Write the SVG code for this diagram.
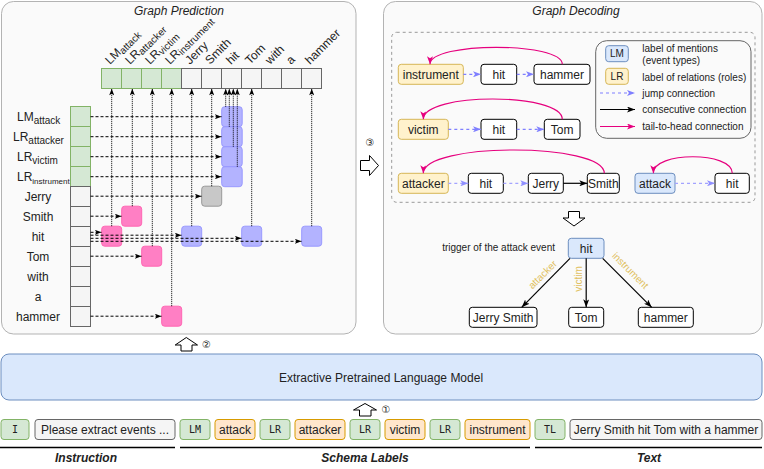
<svg xmlns="http://www.w3.org/2000/svg" width="764" height="469" viewBox="0 0 764 469">
<style>
text{font-family:"Liberation Sans",Arial,sans-serif;fill:#222}
.t12{font-size:12px}
.t10{font-size:10px}
.mid{text-anchor:middle}
.it{font-style:italic}
.panel{fill:#fafafa;stroke:#b3b3b3;stroke-width:1}
.gc{fill:#d5e8d4;stroke:#82b366}
.wc{fill:#f5f5f5;stroke:#666}
.oc{fill:#ffe6cc;stroke:#d79b00}
.yc{fill:#fff2cc;stroke:#d6b656}
.bc{fill:#dae8fc;stroke:#6c8ebf}
.nc{fill:#fff;stroke:#000}
.sqb{fill:#a6a6ff;fill-opacity:.85;stroke:#9999ff}
.sqp{fill:#ff7fc4;stroke:#ff66b3}
.sqg{fill:#c8c8c8;stroke:#999}
.hd{fill:none;stroke:#000;stroke-width:1;stroke-dasharray:3 2;marker-end:url(#ak)}
.vd{fill:none;stroke:#000;stroke-width:1;stroke-dasharray:1 1;marker-end:url(#ak)}
.jb{fill:none;stroke:#7f7fff;stroke-width:1.2;stroke-dasharray:3 3;marker-end:url(#ab)}
.jb2{fill:none;stroke:#a3a3ff;stroke-width:1.2;stroke-dasharray:3 3;marker-end:url(#ab2)}
.ck{fill:none;stroke:#000;stroke-width:1.2;marker-end:url(#ak2)}
.th{fill:none;stroke:#e6007e;stroke-width:1.2;marker-end:url(#ap)}
.hollow{fill:#fff;stroke:#000;stroke-width:1}
.mono{font-family:"DejaVu Sans Mono","Liberation Mono",monospace;font-size:10px}
.lbl{fill:#e0bf60;font-size:10px}
.cd{font-family:"DejaVu Sans","Noto Sans CJK SC",sans-serif;font-size:10px;fill:#222}
</style>
<defs>
<marker id="ak" viewBox="0 0 8 6" refX="8" refY="3" markerWidth="7" markerHeight="5" orient="auto" markerUnits="userSpaceOnUse"><path d="M0,0 L8,3 L0,6 L2,3 Z" fill="#000"/></marker>
<marker id="ak2" viewBox="0 0 8 6" refX="8" refY="3" markerWidth="8" markerHeight="6" orient="auto" markerUnits="userSpaceOnUse"><path d="M0,0 L8,3 L0,6 L2,3 Z" fill="#000"/></marker>
<marker id="ab" viewBox="0 0 8 6" refX="8" refY="3" markerWidth="8" markerHeight="6" orient="auto" markerUnits="userSpaceOnUse"><path d="M0,0 L8,3 L0,6 L2,3 Z" fill="#7f7fff"/></marker>
<marker id="ab2" viewBox="0 0 8 6" refX="8" refY="3" markerWidth="8" markerHeight="6" orient="auto" markerUnits="userSpaceOnUse"><path d="M0,0 L8,3 L0,6 L2,3 Z" fill="#8f8fff"/></marker>
<marker id="ap" viewBox="0 0 8 6" refX="8" refY="3" markerWidth="8" markerHeight="6" orient="auto" markerUnits="userSpaceOnUse"><path d="M0,0 L8,3 L0,6 L2,3 Z" fill="#e6007e"/></marker>
</defs>

<g id="panel-prediction">
<rect class="panel" x="1.5" y="1.5" width="354.5" height="332.5" rx="12"/>
<text class="t12 it mid" x="179" y="15">Graph Prediction</text>
</g>
<g id="panel-decoding">
<rect class="panel" x="383.5" y="1.5" width="378.5" height="332.5" rx="12"/>
<text class="t12 it mid" x="576" y="15">Graph Decoding</text>
<rect x="391.7" y="32.3" width="363.3" height="170" rx="5" fill="none" stroke="#999" stroke-dasharray="3 3"/>
</g>

<g id="top-row">
<rect class="gc" x="101.5" y="68.5" width="20" height="20"/>
<rect class="gc" x="121.5" y="68.5" width="20" height="20"/>
<rect class="gc" x="141.5" y="68.5" width="20" height="20"/>
<rect class="gc" x="161.5" y="68.5" width="20" height="20"/>
<rect class="wc" x="181.5" y="68.5" width="20" height="20"/>
<rect class="wc" x="201.5" y="68.5" width="20" height="20"/>
<rect class="wc" x="221.5" y="68.5" width="20" height="20"/>
<rect class="wc" x="241.5" y="68.5" width="20" height="20"/>
<rect class="wc" x="261.5" y="68.5" width="20" height="20"/>
<rect class="wc" x="281.5" y="68.5" width="20" height="20"/>
<rect class="wc" x="301.5" y="68.5" width="20" height="20"/>
<g style="font-size:12px">
<text transform="rotate(-45 110 65)" x="110" y="65">LM<tspan font-size="10" dy="2">attack</tspan></text>
<text transform="rotate(-45 130 65)" x="130" y="65">LR<tspan font-size="10" dy="2">attacker</tspan></text>
<text transform="rotate(-45 150 65)" x="150" y="65">LR<tspan font-size="10" dy="2">victim</tspan></text>
<text transform="rotate(-45 170 65)" x="170" y="65">LR<tspan font-size="10" dy="2">instrument</tspan></text>
<text transform="rotate(-45 190 65)" x="190" y="65">Jerry</text>
<text transform="rotate(-45 210 65)" x="210" y="65">Smith</text>
<text transform="rotate(-45 231 65)" x="231" y="65">hit</text>
<text transform="rotate(-45 250 65)" x="250" y="65">Tom</text>
<text transform="rotate(-45 270 65)" x="270" y="65">with</text>
<text transform="rotate(-45 291 65)" x="291" y="65">a</text>
<text transform="rotate(-45 310 65)" x="310" y="65">hammer</text>
</g>
</g>

<g id="left-column">
<rect class="gc" x="70.5" y="106.5" width="20" height="20"/>
<rect class="gc" x="70.5" y="126.5" width="20" height="20"/>
<rect class="gc" x="70.5" y="146.5" width="20" height="20"/>
<rect class="gc" x="70.5" y="166.5" width="20" height="20"/>
<rect class="wc" x="70.5" y="186.5" width="20" height="20"/>
<rect class="wc" x="70.5" y="206.5" width="20" height="20"/>
<rect class="wc" x="70.5" y="226.5" width="20" height="20"/>
<rect class="wc" x="70.5" y="246.5" width="20" height="20"/>
<rect class="wc" x="70.5" y="266.5" width="20" height="20"/>
<rect class="wc" x="70.5" y="286.5" width="20" height="20"/>
<rect class="wc" x="70.5" y="306.5" width="20" height="20"/>
<g class="t12">
<text x="17" y="120.5">LM<tspan font-size="10" dy="3">attack</tspan></text>
<text x="13" y="140.5">LR<tspan font-size="10" dy="3">attacker</tspan></text>
<text x="17" y="160.5">LR<tspan font-size="10" dy="3">victim</tspan></text>
<text x="17" y="180.5">LR<tspan font-size="8" dy="3">instrument</tspan></text>
<text class="mid" x="38" y="200.5">Jerry</text>
<text class="mid" x="38" y="220.5">Smith</text>
<text class="mid" x="38" y="240.5">hit</text>
<text class="mid" x="38" y="260.5">Tom</text>
<text class="mid" x="38" y="280.5">with</text>
<text class="mid" x="38" y="300.5">a</text>
<text class="mid" x="38" y="320.5">hammer</text>
</g>
</g>

<g id="scores">
<rect class="sqb" x="221.7" y="106.7" width="20.5" height="20" rx="3"/>
<rect class="sqb" x="221.7" y="126.7" width="20.5" height="20" rx="3"/>
<rect class="sqb" x="221.7" y="146.7" width="20.5" height="20" rx="3"/>
<rect class="sqb" x="221.7" y="166.7" width="20.5" height="20" rx="3"/>
<rect class="sqg" x="201.7" y="186.2" width="20" height="20" rx="3"/>
<rect class="sqp" x="121.7" y="206.2" width="20" height="20" rx="3"/>
<rect class="sqp" x="101.7" y="226.2" width="20" height="20" rx="3"/>
<rect class="sqb" x="181.7" y="226.2" width="20" height="20" rx="3"/>
<rect class="sqb" x="241.7" y="226.2" width="20" height="20" rx="3"/>
<rect class="sqb" x="301.7" y="226.2" width="20" height="20" rx="3"/>
<rect class="sqp" x="141.7" y="246.2" width="20" height="20" rx="3"/>
<rect class="sqp" x="161.7" y="306.2" width="20" height="20" rx="3"/>
</g>

<g id="decode-row1">
<rect class="yc" x="398.3" y="64.3" width="65" height="20" rx="3"/>
<text class="t12 mid" x="430.8" y="78.5">instrument</text>
<rect class="nc" x="481" y="64.3" width="35.7" height="20" rx="3"/>
<text class="t12 mid" x="498.8" y="78.5">hit</text>
<rect class="nc" x="534" y="64.3" width="56" height="20" rx="3"/>
<text class="t12 mid" x="562" y="78.5">hammer</text>
</g>
<g id="decode-row2">
<rect class="yc" x="398.3" y="119.3" width="50" height="20" rx="3"/>
<text class="t12 mid" x="423.3" y="133.5">victim</text>
<rect class="nc" x="481" y="119.3" width="35.7" height="20" rx="3"/>
<text class="t12 mid" x="498.8" y="133.5">hit</text>
<rect class="nc" x="544.3" y="119.3" width="35.7" height="20" rx="3"/>
<text class="t12 mid" x="562.2" y="133.5">Tom</text>
</g>
<g id="decode-row3">
<rect class="yc" x="398.3" y="173.3" width="50" height="20" rx="3"/>
<text class="t12 mid" x="423.3" y="187.5">attacker</text>
<rect class="nc" x="468.3" y="173.3" width="35" height="20" rx="3"/>
<text class="t12 mid" x="485.8" y="187.5">hit</text>
<rect class="nc" x="528.3" y="173.3" width="35" height="20" rx="3"/>
<text class="t12 mid" x="545.8" y="187.5">Jerry</text>
<rect class="nc" x="587.3" y="173.3" width="32" height="20" rx="3"/>
<text class="t12 mid" x="603.3" y="187.5">Smith</text>
<rect class="bc" x="635" y="173.3" width="40" height="20" rx="3"/>
<text class="t12 mid" x="655" y="187.5">attack</text>
<rect class="nc" x="715" y="173.3" width="34.3" height="20" rx="3"/>
<text class="t12 mid" x="732.2" y="187.5">hit</text>
</g>

<g id="legend">
<rect x="595.7" y="40.7" width="155.3" height="97.6" rx="11" fill="#fafafa" stroke="#666"/>
<rect class="bc" x="605.7" y="45.7" width="22.6" height="16" rx="3"/>
<text class="t10 mid" x="617" y="57">LM</text>
<rect class="yc" x="605.7" y="68.3" width="22.6" height="16" rx="3"/>
<text class="t10 mid" x="617" y="80">LR</text>
<g class="t10" style="fill:#333">
<text x="642.3" y="51.5">label of mentions</text>
<text x="642.3" y="64">(event types)</text>
<text x="642.3" y="80.5">label of relations (roles)</text>
<text x="642.3" y="96.8">jump connection</text>
<text x="642.3" y="112.8">consecutive connection</text>
<text x="642.3" y="129.8">tail-to-head connection</text>
</g>
</g>

<g id="event-tree">
<text class="t10" x="555" y="251" text-anchor="end">trigger of the attack event</text>
<rect class="bc" x="568.3" y="238.3" width="35.7" height="20" rx="3"/>
<text class="t12 mid" x="586.2" y="252.5">hit</text>
<rect class="nc" x="469.3" y="307.3" width="67.7" height="20" rx="3"/>
<text class="t12 mid" x="503.2" y="321.5">Jerry Smith</text>
<rect class="nc" x="568.7" y="307.3" width="35" height="20" rx="3"/>
<text class="t12 mid" x="586.2" y="321.5">Tom</text>
<rect class="nc" x="638.3" y="307.3" width="55" height="20" rx="3"/>
<text class="t12 mid" x="665.8" y="321.5">hammer</text>
</g>

<g id="connectors">
<line class="hd" x1="90.5" y1="116.7" x2="221.5" y2="116.7"/>
<line class="hd" x1="90.5" y1="136.7" x2="221.5" y2="136.7"/>
<line class="hd" x1="90.5" y1="156.7" x2="221.5" y2="156.7"/>
<line class="hd" x1="90.5" y1="176.7" x2="221.5" y2="176.7"/>
<line class="hd" x1="90.5" y1="196.2" x2="201.5" y2="196.2"/>
<line class="hd" x1="90.5" y1="216.2" x2="121.5" y2="216.2"/>
<line class="hd" x1="90.5" y1="232.3" x2="101.5" y2="232.3"/>
<line class="hd" x1="90.5" y1="235.2" x2="181.5" y2="235.2"/>
<line class="hd" x1="90.5" y1="238.3" x2="241.5" y2="238.3"/>
<line class="hd" x1="90.5" y1="241.3" x2="301.5" y2="241.3"/>
<line class="hd" x1="90.5" y1="256.2" x2="141.5" y2="256.2"/>
<line class="hd" x1="90.5" y1="316.2" x2="161.5" y2="316.2"/>
<line class="vd" x1="111.7" y1="226.2" x2="111.7" y2="88.7"/>
<line class="vd" x1="132.3" y1="206.2" x2="132.3" y2="88.7"/>
<line class="vd" x1="152.3" y1="246.2" x2="152.3" y2="88.7"/>
<line class="vd" x1="171.7" y1="306.2" x2="171.7" y2="88.7"/>
<line class="vd" x1="191.7" y1="226.2" x2="191.7" y2="88.7"/>
<line class="vd" x1="211.7" y1="186.2" x2="211.7" y2="88.7"/>
<line class="vd" x1="225.7" y1="106.7" x2="225.7" y2="88.7"/>
<line class="vd" x1="229.3" y1="126.7" x2="229.3" y2="88.7"/>
<line class="vd" x1="233.3" y1="146.7" x2="233.3" y2="88.7"/>
<line class="vd" x1="237.3" y1="166.7" x2="237.3" y2="88.7"/>
<line class="vd" x1="251.7" y1="226.2" x2="251.7" y2="88.7"/>
<line class="vd" x1="311.7" y1="226.2" x2="311.7" y2="88.7"/>
<line class="jb" x1="463.3" y1="74.3" x2="481" y2="74.3"/>
<line class="jb" x1="516.7" y1="74.3" x2="534" y2="74.3"/>
<path class="th" d="M562.3,64.3 C562.3,41.6 430,41.6 430,64.3"/>
<line class="jb" x1="448.3" y1="129.3" x2="481" y2="129.3"/>
<line class="jb" x1="516.7" y1="129.3" x2="544.3" y2="129.3"/>
<path class="th" d="M562.3,119.3 C562.3,92.2 423.3,92.2 423.3,119.3"/>
<line class="jb2" x1="448.3" y1="183.3" x2="468.3" y2="183.3"/>
<line class="jb2" x1="503.3" y1="183.3" x2="528.3" y2="183.3"/>
<line class="ck" x1="563.3" y1="183.3" x2="587.3" y2="183.3"/>
<path class="th" d="M604.3,173.3 C604.3,142.2 423.3,142.2 423.3,173.3"/>
<line class="jb2" x1="675" y1="183.3" x2="715" y2="183.3"/>
<path class="th" d="M732.3,173.3 C732.3,151.2 653.3,151.2 653.3,173.3"/>
<line class="jb" x1="600" y1="93" x2="635" y2="93"/>
<line class="ck" x1="600" y1="109.5" x2="635" y2="109.5"/>
<line class="th" x1="600" y1="126.5" x2="635" y2="126.5"/>
<line class="ck" x1="570" y1="258.3" x2="521.7" y2="307.3"/>
<line class="ck" x1="586.2" y1="258.3" x2="586.2" y2="307.3"/>
<line class="ck" x1="602.7" y1="258.3" x2="651.7" y2="307.3"/>
</g>
<g id="tree-labels">
<text class="lbl mid" transform="rotate(-45 545 277)" x="545" y="277">attacker</text>
<text class="lbl mid" transform="rotate(-90 582 279)" x="582" y="279">victim</text>
<text class="lbl mid" transform="rotate(45 628 273)" x="628" y="273">instrument</text>
</g>

<g id="step-arrows">
<polygon class="hollow" points="360.5,160.5 369.5,160.5 369.5,155.5 378.5,165.5 369.5,175.5 369.5,170.5 360.5,170.5"/>
<text class="cd mid" x="370" y="146">③</text>
<polygon class="hollow" points="568.5,211.5 579.5,211.5 579.5,218 585,218 574,226 563,218 568.5,218"/>
<polygon class="hollow" points="186.3,337.5 197.5,345 192,345 192,351 181,351 181,345 175.2,345"/>
<text class="cd mid" x="206.5" y="347.5">②</text>
<polygon class="hollow" points="365,403.5 376.5,410 371,410 371,416 359.5,416 359.5,410 353.5,410"/>
<text class="cd mid" x="386" y="413">①</text>
</g>

<g id="plm">
<rect x="1" y="354" width="761" height="46" rx="8" fill="#dae8fc" stroke="#6c8ebf"/>
<text class="t12 mid" x="381" y="382">Extractive Pretrained Language Model</text>
</g>

<g id="input-tokens">
<rect class="gc" x="1" y="419.5" width="28" height="20" rx="3"/>
<text class="mono mid" x="15" y="433">I</text>
<rect class="wc" x="35" y="419.5" width="140" height="20" rx="3"/>
<text class="t12 mid" x="105" y="433.5">Please extract events ...</text>
<rect class="gc" x="180" y="419.5" width="30" height="20" rx="3"/>
<text class="mono mid" x="195" y="433">LM</text>
<rect class="oc" x="215" y="419.5" width="40" height="20" rx="3"/>
<text class="t12 mid" x="235" y="433.5">attack</text>
<rect class="gc" x="260" y="419.5" width="30" height="20" rx="3"/>
<text class="mono mid" x="275" y="433">LR</text>
<rect class="oc" x="295" y="419.5" width="50" height="20" rx="3"/>
<text class="t12 mid" x="320" y="433.5">attacker</text>
<rect class="gc" x="350" y="419.5" width="30" height="20" rx="3"/>
<text class="mono mid" x="365" y="433">LR</text>
<rect class="oc" x="385" y="419.5" width="40" height="20" rx="3"/>
<text class="t12 mid" x="405" y="433.5">victim</text>
<rect class="gc" x="430" y="419.5" width="30" height="20" rx="3"/>
<text class="mono mid" x="445" y="433">LR</text>
<rect class="oc" x="465" y="419.5" width="65" height="20" rx="3"/>
<text class="t12 mid" x="497.5" y="433.5">instrument</text>
<rect class="gc" x="535" y="419.5" width="30" height="20" rx="3"/>
<text class="mono mid" x="550" y="433">TL</text>
<rect class="wc" x="570" y="419.5" width="192" height="20" rx="3"/>
<text class="t12 mid" x="666" y="433.5">Jerry Smith hit Tom with a hammer</text>
</g>

<g id="segments">
<line x1="0" y1="447.5" x2="175" y2="447.5" stroke="#000" stroke-width="1.5"/>
<line x1="180" y1="447.5" x2="530" y2="447.5" stroke="#000" stroke-width="1.5"/>
<line x1="535" y1="447.5" x2="762" y2="447.5" stroke="#000" stroke-width="1.5"/>
<text class="t12 it mid" x="86" y="462" font-weight="bold">Instruction</text>
<text class="t12 it mid" x="365" y="462" font-weight="bold">Schema Labels</text>
<text class="t12 it mid" x="649" y="462" font-weight="bold">Text</text>
</g>
</svg>
